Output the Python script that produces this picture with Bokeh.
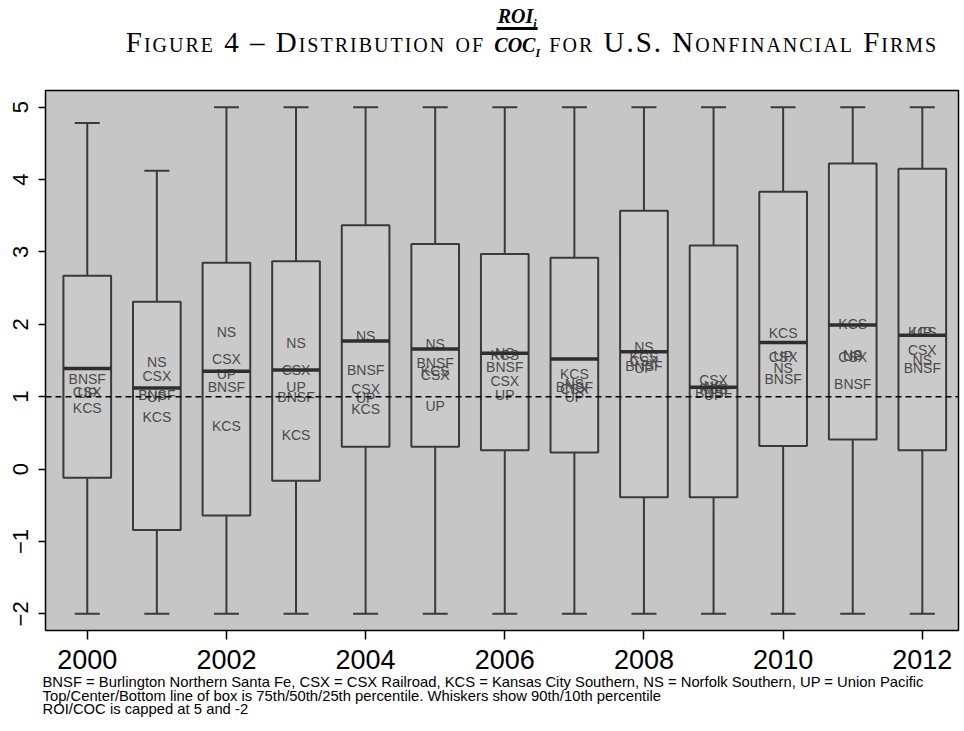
import numpy as np
from bokeh.plotting import figure
from bokeh.models import Range1d, FixedTicker, Span, Title, Div, ColumnDataSource
from bokeh.layouts import column
from bokeh.core.properties import value
from bokeh.embed import file_html
from bokeh.resources import INLINE

# ---------------- data ----------------
years = [2000, 2001, 2002, 2003, 2004, 2005, 2006, 2007, 2008, 2009, 2010, 2011, 2012]
p90 = [4.78, 4.12, 5.0, 5.0, 5.0, 5.0, 5.0, 5.0, 5.0, 5.0, 5.0, 5.0, 5.0]
p75 = [2.67, 2.31, 2.85, 2.87, 3.37, 3.11, 2.97, 2.92, 3.57, 3.09, 3.83, 4.22, 4.15]
p50 = [1.39, 1.12, 1.35, 1.37, 1.77, 1.66, 1.60, 1.52, 1.62, 1.13, 1.75, 1.99, 1.85]
p25 = [-0.12, -0.84, -0.64, -0.16, 0.31, 0.31, 0.26, 0.23, -0.39, -0.39, 0.32, 0.41, 0.26]
p10 = [-2.0, -2.0, -2.0, -2.0, -2.0, -2.0, -2.0, -2.0, -2.0, -2.0, -2.0, -2.0, -2.0]

firms = ["BNSF", "CSX", "KCS", "NS", "UP"]
bnsf = [1.24, 1.03, 1.13, 1.00, 1.37, 1.47, 1.41, 1.14, 1.42, 1.05, 1.24, 1.18, 1.39]
csx = [1.07, 1.29, 1.52, 1.37, 1.10, 1.30, 1.21, 1.11, 1.50, 1.23, 1.55, 1.55, 1.65]
kcs = [0.85, 0.72, 0.59, 0.47, 0.83, 1.36, 1.57, 1.32, 1.55, 1.10, 1.88, 2.00, 1.90]
ns = [None, 1.48, 1.89, 1.74, 1.84, 1.73, 1.60, 1.17, 1.69, 1.15, 1.39, 1.58, 1.51]
up = [1.05, 1.00, 1.31, 1.14, 0.98, 0.87, 1.02, 1.00, 1.40, 1.02, 1.56, 1.56, 1.90]

x_ticks = [2000, 2002, 2004, 2006, 2008, 2010, 2012]
y_ticks = [-2, -1, 0, 1, 2, 3, 4, 5]
reference_value = 1.0

footer_lines = [
    "BNSF = Burlington Northern Santa Fe, CSX = CSX Railroad, KCS = Kansas City Southern, NS = Norfolk Southern, UP = Union Pacific",
    "Top/Center/Bottom line of box is 75th/50th/25th percentile. Whiskers show 90th/10th percentile",
    "ROI/COC is capped at 5 and -2",
]

# ---------------- label table ----------------
lx, ly, lt = [], [], []
for name, vals in zip(firms, [bnsf, csx, kcs, ns, up]):
    for yr, v in zip(years, vals):
        if v is not None:
            lx.append(yr)
            ly.append(v)
            lt.append(name)
labels = ColumnDataSource(dict(x=lx, y=ly, text=lt))
stats = ColumnDataSource(dict(x=years, p90=p90, p75=p75, p50=p50, p25=p25, p10=p10))

# ---------------- title ----------------
title_html = """
<div style="position:relative;width:960px;height:60px;font-family:'Liberation Serif',serif;color:#000;">
  <div style="position:absolute;left:72px;top:28px;width:920px;text-align:center;font-size:29px;line-height:29px;
              letter-spacing:2px;font-variant:small-caps;white-space:nowrap;">Figure 4 &ndash; Distribution of
    <span style="position:relative;display:inline-block;font-variant:normal;font-weight:bold;font-style:italic;
                 font-size:20px;line-height:20px;letter-spacing:0;">
      <span style="position:absolute;left:50%;transform:translateX(-50%);bottom:100%;margin-bottom:5px;
                   padding:0 1px 1px 1px;border-bottom:3px solid #000;font-size:20px;line-height:19px;
                   white-space:nowrap;">ROI<sub style="font-size:12px;line-height:0;">i</sub></span>COC<sub style="font-size:12px;line-height:0;">I</sub></span>
    for U.S. Nonfinancial Firms</div>
</div>
"""
title_div = Div(text=title_html, width=960, height=60, margin=0)

# ---------------- figure ----------------
p = figure(width=960, height=657,
           x_range=Range1d(1999.40, 2012.52), y_range=Range1d(-2.23, 5.23),
           output_backend="svg", toolbar_location=None, margin=0,
           min_border_top=30, min_border_left=45, min_border_right=2, min_border_bottom=0,
           background_fill_color="#c6c6c6", border_fill_color="white")
p.grid.visible = False
p.outline_line_color = "black"
p.outline_line_width = 1.5

line_col = "#3a3a3a"
p.segment(x0="x", y0="p75", x1="x", y1="p90", source=stats, line_color=line_col, line_width=2)
p.segment(x0="x", y0="p25", x1="x", y1="p10", source=stats, line_color=line_col, line_width=2)
p.scatter(x="x", y="p90", source=stats, marker="dash", size=25, line_color=line_col, line_width=2)
p.scatter(x="x", y="p10", source=stats, marker="dash", size=25, line_color=line_col, line_width=2)
p.vbar(x="x", width=0.685, top="p75", bottom="p25", source=stats,
       fill_color="#cacaca", line_color=line_col, line_width=2)

p.text(x="x", y="y", text="text", source=labels, text_align="center", text_baseline="middle",
       text_font=value("Liberation Sans"), text_font_size="14px", text_color="#4a4a4a")

p.rect(x="x", y="p50", width=0.685, height=3.5, height_units="screen", source=stats,
       fill_color="#2e2e2e", line_color=None)

p.add_layout(Span(location=reference_value, dimension="width", line_color="black",
                  line_width=1.5, line_dash="6 4"))

# axes
p.xaxis.ticker = FixedTicker(ticks=x_ticks)
p.xaxis.major_label_text_font = "Liberation Sans"
p.xaxis.major_label_text_font_size = "27px"
p.xaxis.major_label_text_color = "black"
p.xaxis.axis_line_color = None
p.xaxis.major_tick_in = 0
p.xaxis.major_tick_out = 9
p.xaxis.major_tick_line_width = 1.5
p.xaxis.minor_tick_line_color = None
p.xaxis.major_label_standoff = 10

p.yaxis.ticker = FixedTicker(ticks=y_ticks)
p.yaxis.major_label_text_font = "Liberation Sans"
p.yaxis.major_label_text_font_size = "22px"
p.yaxis.major_label_text_color = "black"
p.yaxis.major_label_orientation = "vertical"
p.yaxis.axis_line_color = None
p.yaxis.major_tick_in = 0
p.yaxis.major_tick_out = 7
p.yaxis.major_tick_line_width = 1.5
p.yaxis.minor_tick_line_color = None
p.yaxis.major_label_standoff = 10

footer = Title(text="\n".join(footer_lines), align="left", offset=-3, standoff=0,
               text_font="Liberation Sans", text_font_size="14.8px", text_font_style="normal",
               text_line_height=0.87, text_color="black")
p.add_layout(footer, "below")

layout = column(title_div, p, spacing=0)
open("out.html", "w").write(file_html(layout, INLINE))
